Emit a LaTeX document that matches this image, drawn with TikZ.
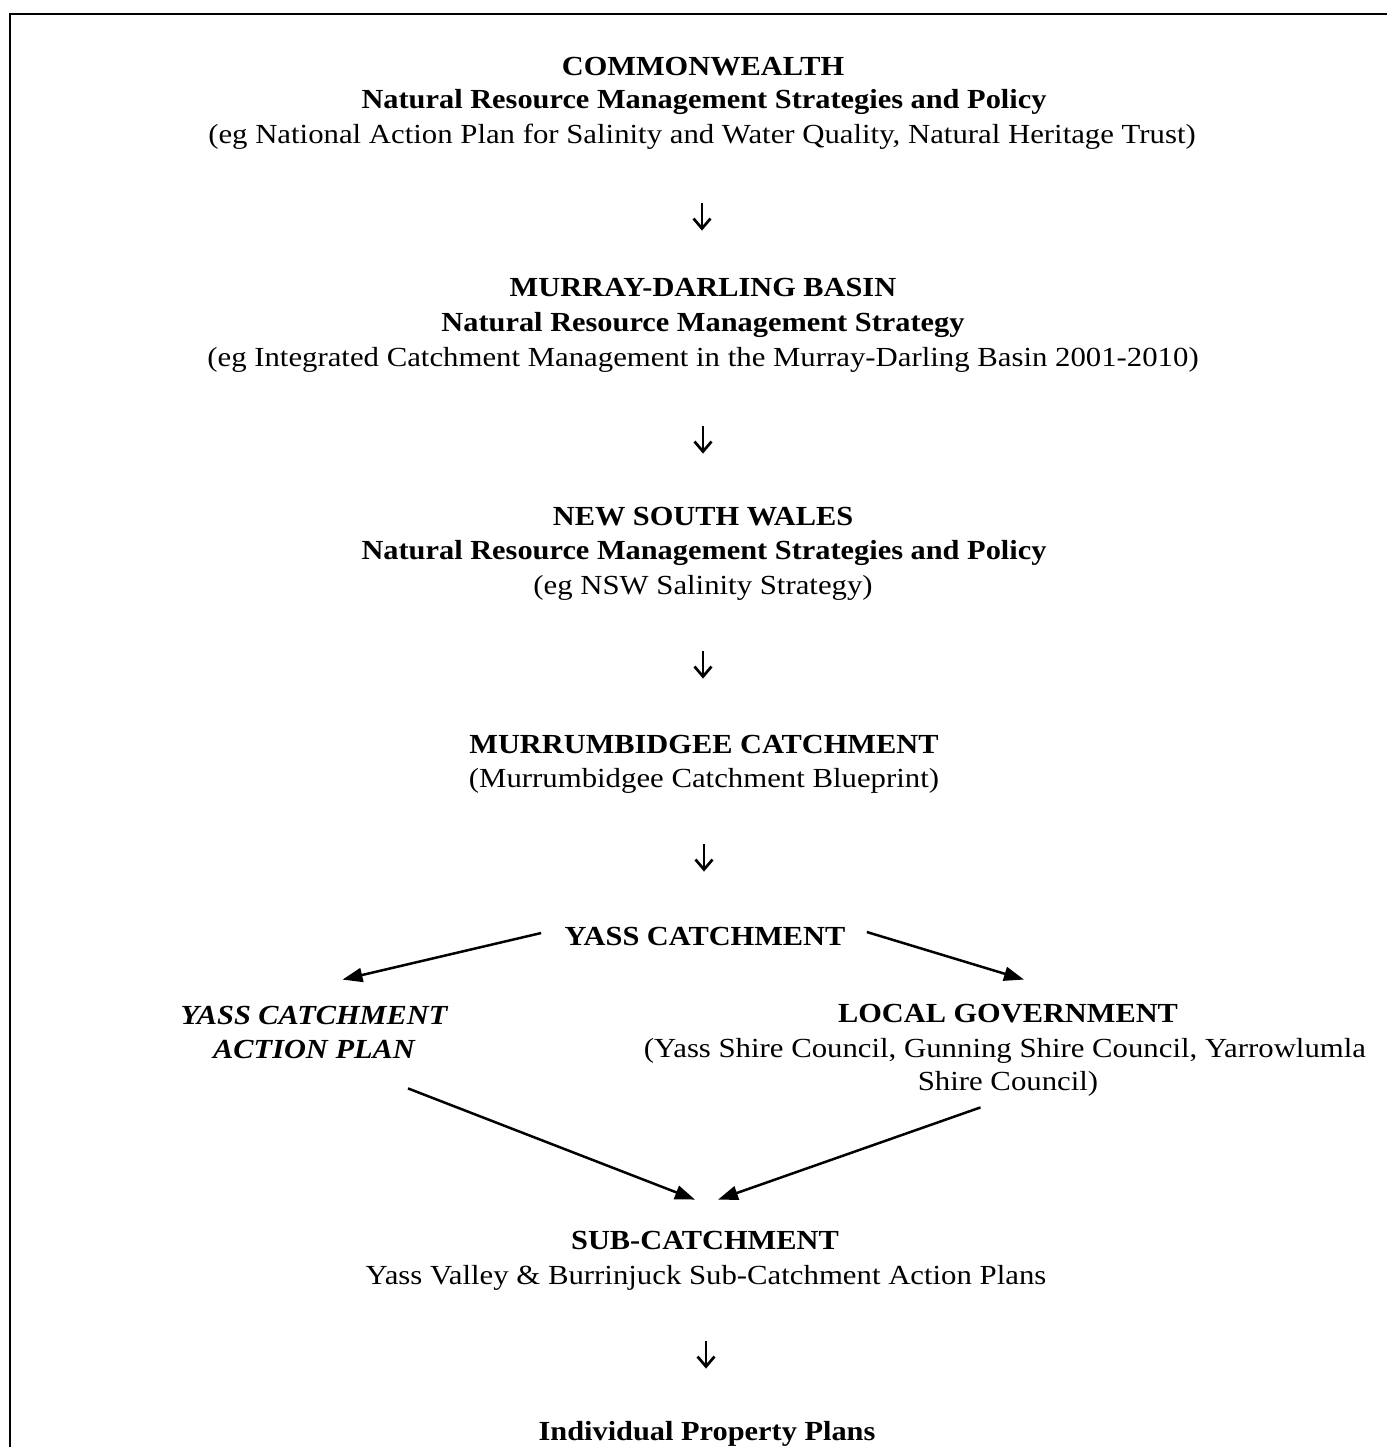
\documentclass[tikz,border=0pt]{standalone}
\usepackage{fontspec}
\setmainfont{Liberation Serif}
\usepackage{graphicx}
\usetikzlibrary{arrows.meta,calc}
\newcommand{\sx}[1]{\scalebox{1.1}[1]{#1}}
\newcommand{\sr}[1]{\scalebox{1.115}[1]{#1}}
\begin{document}
\begin{tikzpicture}[x=0.5pt,y=-0.5pt,
  ln/.style={inner sep=0pt, anchor=base, text height=10pt, text depth=3pt, font=\fontsize{13.8}{16}\selectfont},
  hd/.style={ln, font=\fontsize{13.8}{16}\selectfont\bfseries},
  hi/.style={ln, font=\fontsize{13.8}{16}\selectfont\bfseries\itshape},
  frame/.style={line width=1pt},
  dn/.style={line width=1.35pt, -{Straight Barb[length=5pt,width=8.5pt,line width=1.35pt]}},
  dg/.style={line width=1.25pt, -{Triangle[length=10pt,width=7pt]}}]
\useasboundingbox (0,0) rectangle (1387,1447);
\draw[frame] (10,1447) -- (10,14) -- (1387,14);

% block 1
\node[hd] (c1) at (703,75)  {\sx{COMMONWEALTH}};
\node[hd] (c2) at (704,108) {\sx{Natural Resource Management Strategies and Policy}};
\node[ln] (c3) at (702,143) {\sr{(eg National Action Plan for Salinity and Water Quality, Natural Heritage Trust)}};
% block 2
\node[hd] (m1) at (703,296) {\sx{MURRAY-DARLING BASIN}};
\node[hd] (m2) at (703,331) {\sx{Natural Resource Management Strategy}};
\node[ln] (m3) at (703,366) {\sr{(eg Integrated Catchment Management in the Murray-Darling Basin 2001-2010)}};
% block 3
\node[hd] (n1) at (703,525) {\sx{NEW SOUTH WALES}};
\node[hd] (n2) at (704,559) {\sx{Natural Resource Management Strategies and Policy}};
\node[ln] (n3) at (703,594) {\sr{(eg NSW Salinity Strategy)}};
% block 4
\node[hd] (r1) at (704,753) {\sx{MURRUMBIDGEE CATCHMENT}};
\node[ln] (r2) at (704,787) {\sr{(Murrumbidgee Catchment Blueprint)}};
% yass
\node[hd] (yass) at (705,945) {\sx{YASS CATCHMENT}};
% action plan
\node[hi] (ap1) at (314,1024) {\sx{YASS CATCHMENT}};
\node[hi] (ap2) at (314,1058) {\sx{ACTION PLAN}};
% local government
\node[hd] (lg1) at (1008,1022) {\sx{LOCAL GOVERNMENT}};
\node[ln] (lg2) at (1005,1057) {\sr{(Yass Shire Council, Gunning Shire Council, Yarrowlumla}};
\node[ln] (lg3) at (1008,1090) {\sr{Shire Council)}};
% sub-catchment
\node[hd] (s1) at (705,1249) {\sx{SUB-CATCHMENT}};
\node[ln] (s2) at (706,1284) {\sr{Yass Valley \& Burrinjuck Sub-Catchment Action Plans}};
% individual
\node[hd] (ip) at (707,1440) {\sx{Individual Property Plans}};

% vertical arrows
\draw[dn, shorten <=27pt, shorten >=22.5pt] (c3.south) -- (c3.south |- m1.north);
\draw[dn, shorten <=27pt, shorten >=25.5pt] (m3.south) -- (m3.south |- n1.north);
\draw[dn, shorten <=25.5pt, shorten >=27pt] (n3.south) -- (n3.south |- r1.north);
\draw[dn, shorten <=25.5pt, shorten >=26.5pt] (r2.south) -- (r2.south |- yass.north);
\draw[dn, shorten <=25.5pt, shorten >=25.5pt] (s2.south) -- (s2.south |- ip.north);

% diagonal arrows
\draw[dg] ([xshift=-11.5pt,yshift=2.5pt]yass.west) -- ([xshift=14.25pt,yshift=12pt]ap1.north);
\draw[dg] ([xshift=10.5pt,yshift=3pt]yass.east) -- ([xshift=8pt,yshift=11pt]lg1.north);
\draw[dg] ([xshift=47pt,yshift=-12pt]ap2.south) -- ([xshift=-5pt,yshift=14.5pt]s1.north);
\draw[dg] ([xshift=-13.75pt,yshift=-5.5pt]lg3.south) -- ([xshift=6.5pt,yshift=14.5pt]s1.north);
\end{tikzpicture}
\end{document}
